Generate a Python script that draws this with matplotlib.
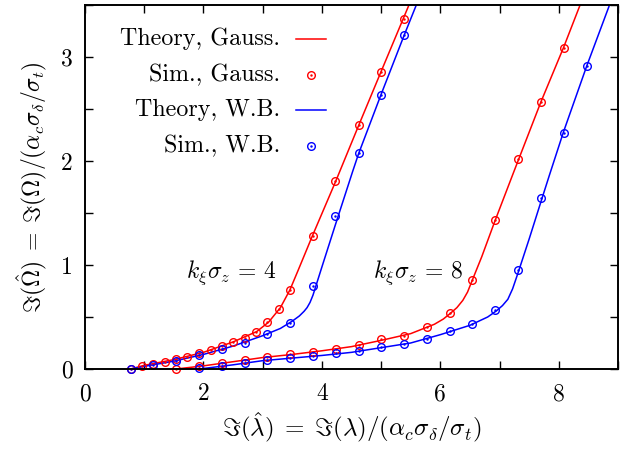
import matplotlib
matplotlib.use("Agg")
import matplotlib.pyplot as plt
from matplotlib.ticker import MultipleLocator, FuncFormatter
from matplotlib.lines import Line2D

plt.rcParams['font.family'] = ['cmr10']
plt.rcParams['mathtext.fontset'] = 'cm'
plt.rcParams['axes.formatter.use_mathtext'] = True

RED = '#ff0000'
BLUE = '#0000ff'

# simulation points, k*sigma_z = 4
sim_g4_x = [0.77, 0.96, 1.15, 1.35, 1.54, 1.73, 1.93, 2.12, 2.31, 2.50, 2.70, 2.89,
            3.08, 3.27, 3.46, 3.85, 4.23, 4.62, 5.00, 5.39]
sim_g4_y = [0.0, 0.03, 0.05, 0.07, 0.095, 0.12, 0.15, 0.18, 0.22, 0.26, 0.30, 0.36,
            0.45, 0.58, 0.76, 1.28, 1.81, 2.35, 2.86, 3.37]
sim_w4_x = [0.77, 1.15, 1.54, 1.93, 2.31, 2.70, 3.08, 3.47, 3.85, 4.23, 4.62, 5.00, 5.39]
sim_w4_y = [0.0, 0.04, 0.08, 0.13, 0.195, 0.25, 0.34, 0.445, 0.80, 1.47, 2.08, 2.63, 3.21]

# simulation points, k*sigma_z = 8
sim_g8_x = [1.54, 1.93, 2.31, 2.70, 3.08, 3.47, 3.85, 4.24, 4.62, 5.00, 5.39, 5.77,
            6.16, 6.54, 6.93, 7.31, 7.70, 8.08]
sim_g8_y = [0.0, 0.025, 0.06, 0.085, 0.12, 0.14, 0.165, 0.195, 0.23, 0.285, 0.32, 0.40,
            0.535, 0.86, 1.43, 2.02, 2.57, 3.09]
sim_w8_x = [1.93, 2.31, 2.70, 3.08, 3.47, 3.85, 4.24, 4.62, 5.00, 5.39, 5.77, 6.16,
            6.54, 6.93, 7.31, 7.70, 8.08, 8.47]
sim_w8_y = [0.005, 0.03, 0.06, 0.085, 0.105, 0.125, 0.15, 0.175, 0.21, 0.24, 0.29, 0.365,
            0.43, 0.57, 0.95, 1.64, 2.27, 2.91]

# theory curves
th_g4_x = [0.77, 1.0, 1.5, 2.0, 2.5, 2.9, 3.1, 3.3, 3.46, 3.6, 3.84, 4.23, 4.62, 5.0, 5.5]
th_g4_y = [0.0, 0.035, 0.09, 0.16, 0.26, 0.36, 0.45, 0.59, 0.76, 0.95, 1.28, 1.80, 2.34, 2.86, 3.54]
th_w4_x = [0.77, 1.0, 1.5, 2.0, 2.5, 3.0, 3.3, 3.5, 3.62, 3.7, 3.75, 3.8, 3.85, 3.9, 4.0,
           4.23, 4.52, 4.62, 5.0, 5.39, 5.63]
th_w4_y = [0.0, 0.025, 0.075, 0.14, 0.22, 0.32, 0.39, 0.46, 0.51, 0.555, 0.59, 0.64, 0.71,
           0.80, 0.98, 1.39, 1.90, 2.07, 2.64, 3.21, 3.55]
th_g8_x = [1.54, 2.0, 2.5, 3.0, 3.5, 4.0, 4.5, 5.0, 5.5, 5.9, 6.05, 6.17, 6.28, 6.38, 6.46,
           6.53, 6.7, 6.92, 7.23, 7.7, 8.08, 8.36]
th_g8_y = [0.0, 0.03, 0.07, 0.11, 0.14, 0.175, 0.215, 0.275, 0.34, 0.43, 0.48, 0.535, 0.59,
           0.66, 0.74, 0.84, 1.08, 1.42, 1.88, 2.57, 3.09, 3.5]
th_w8_x = [1.93, 2.5, 3.0, 3.5, 4.0, 4.5, 5.0, 5.5, 6.0, 6.5, 6.8, 6.95, 7.05, 7.14, 7.22,
           7.31, 7.5, 7.7, 7.84, 8.08, 8.47, 8.87]
th_w8_y = [0.0, 0.04, 0.08, 0.105, 0.13, 0.16, 0.205, 0.25, 0.33, 0.42, 0.50, 0.56, 0.61,
           0.67, 0.77, 0.92, 1.25, 1.61, 1.86, 2.28, 2.91, 3.52]

labels = ['Theory, Gauss.', 'Sim., Gauss.', 'Theory, W.B.', 'Sim., W.B.']

fig = plt.figure(figsize=(6.29, 4.49), dpi=100)
ax = fig.add_axes([0.1351, 0.1782, 0.8474, 0.8107])

lw = 1.1
ms = 5.5
mew = 1.0


def sim(x, y, c):
    ax.plot(x, y, 'o', ms=ms, mfc='none', mec=c, mew=mew, clip_on=False)
    ax.plot(x, y, '.', ms=1.5, color=c, clip_on=False)


for x, y in [(th_g4_x, th_g4_y), (th_g8_x, th_g8_y)]:
    ax.plot(x, y, '-', color=RED, lw=lw)
for x, y in [(th_w4_x, th_w4_y), (th_w8_x, th_w8_y)]:
    ax.plot(x, y, '-', color=BLUE, lw=lw)
sim(sim_g4_x, sim_g4_y, RED)
sim(sim_g8_x, sim_g8_y, RED)
sim(sim_w4_x, sim_w4_y, BLUE)
sim(sim_w8_x, sim_w8_y, BLUE)

ax.text(2.46, 0.93, r'$k_\xi\sigma_z\,=\,4$', fontsize=17, ha='center', va='center')
ax.text(5.62, 0.93, r'$k_\xi\sigma_z\,=\,8$', fontsize=17, ha='center', va='center')

# gnuplot-style key: right-aligned text, sample on the right
key_y = [0.907, 0.808, 0.712, 0.613]
key_c = [RED, RED, BLUE, BLUE]
for i, (lab, yy, c) in enumerate(zip(labels, key_y, key_c)):
    ax.text(0.366, yy, lab, transform=ax.transAxes, fontsize=17.3, ha='right', va='center')
    if i % 2 == 0:
        ax.add_line(Line2D([0.396, 0.452], [yy, yy], transform=ax.transAxes, color=c, lw=lw))
    else:
        ax.add_line(Line2D([0.424], [yy], transform=ax.transAxes, marker='o', ms=ms,
                           mfc='none', mec=c, mew=mew))
        ax.add_line(Line2D([0.424], [yy], transform=ax.transAxes, marker='.', ms=1.5, color=c))

ax.set_xlim(0, 9)
ax.set_ylim(0, 3.5)
ax.xaxis.set_major_locator(MultipleLocator(1))
ax.yaxis.set_major_locator(MultipleLocator(0.5))
ax.xaxis.set_major_formatter(FuncFormatter(lambda v, p: '%d' % v if round(v) % 2 == 0 else ''))
ax.yaxis.set_major_formatter(FuncFormatter(lambda v, p: '%d' % v if abs(v - round(v)) < 1e-6 else ''))
ax.tick_params(direction='in', length=6, width=1.0, top=True, right=True, labelsize=17)
ax.tick_params(axis='x', pad=10)
ax.tick_params(axis='y', pad=9)
for s in ax.spines.values():
    s.set_linewidth(1.4)

ax.set_xlabel(r'$\Im(\hat\lambda)\;=\;\Im(\lambda)/(\alpha_c\sigma_\delta/\sigma_t)$', fontsize=18, labelpad=4)
ax.set_ylabel(r'$\Im(\hat\Omega)\;=\;\Im(\Omega)/(\alpha_c\sigma_\delta/\sigma_t)$', fontsize=17, labelpad=8)

fig.savefig('out.png', dpi=100)
